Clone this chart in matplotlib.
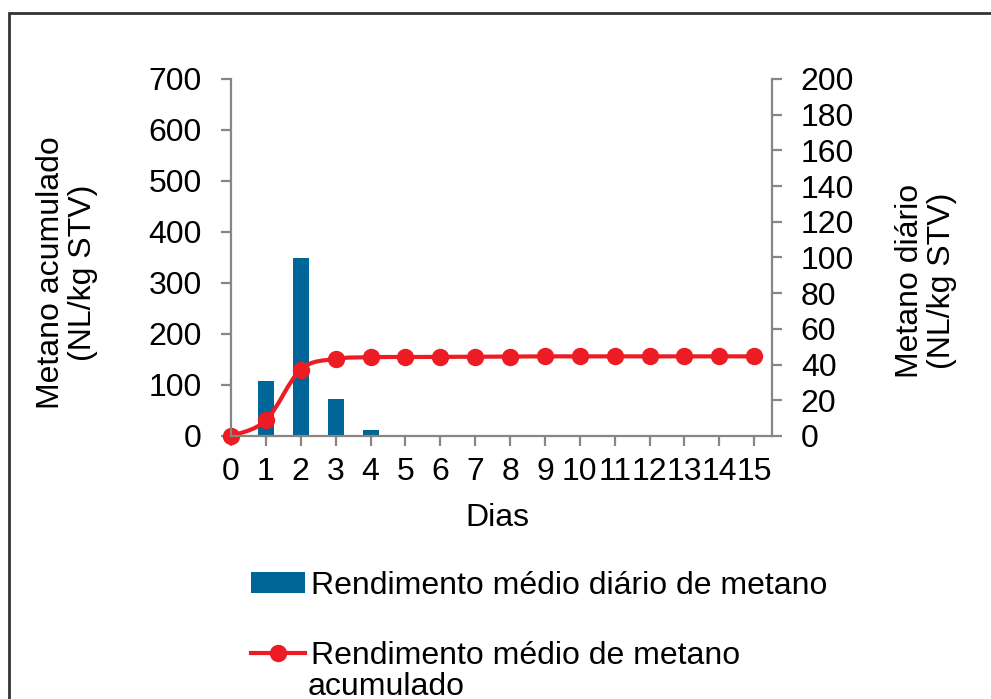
"""
Rendimento de metano: diário (barras) e acumulado (linha) ao longo dos dias.
"""

import matplotlib
matplotlib.use("Agg")
import matplotlib.pyplot as plt
from matplotlib.path import Path
from matplotlib.patches import PathPatch, Rectangle, Patch
from matplotlib.lines import Line2D

plt.rcParams["font.family"] = ["Liberation Sans", "DejaVu Sans"]

days = list(range(16))
daily = [0, 30.6, 99.7, 20.7, 3.4, 0.4, 0.3, 0.3, 0.3, 0.4,
         0, 0, 0, 0, 0, 0]
cumulative = [0, 30.6, 130.3, 151.0, 154.4, 154.8, 155.1, 155.4, 155.7, 156.1,
              156.1, 156.1, 156.1, 156.1, 156.1, 156.1]

BAR_COLOR = "#006699"
LINE_COLOR = "#ED1C24"
AXIS_COLOR = "#8C8481"
FS = 23


def smooth_path(x, y):
    """Bezier path through the points (Catmull-Rom style smoothing)."""
    verts = [(x[0], y[0])]
    codes = [Path.MOVETO]
    n = len(x)
    for i in range(n - 1):
        xp, yp = (x[i - 1], y[i - 1]) if i > 0 else (x[i], y[i])
        xn, yn = (x[i + 2], y[i + 2]) if i + 2 < n else (x[i + 1], y[i + 1])
        c1 = (x[i] + (x[i + 1] - xp) / 6, y[i] + (y[i + 1] - yp) / 6)
        c2 = (x[i + 1] - (xn - x[i]) / 6, y[i + 1] - (yn - y[i]) / 6)
        verts += [c1, c2, (x[i + 1], y[i + 1])]
        codes += [Path.CURVE4] * 3
    return Path(verts, codes)


fig = plt.figure(figsize=(9.91, 6.99), dpi=100)
ax1 = fig.add_axes([0.2331, 0.3763, 0.5456, 0.5107])
ax2 = ax1.twinx()

# daily yield on the right axis
ax2.bar(days, daily, width=0.46, color=BAR_COLOR, zorder=2)
ax2.set_ylim(0, 200)
ax2.set_yticks(range(0, 201, 20))

# cumulative yield on the left axis, drawn above the bars
ax1.set_zorder(ax2.get_zorder() + 1)
ax1.patch.set_visible(False)
ax1.add_patch(PathPatch(smooth_path(days, cumulative), facecolor="none",
                        edgecolor=LINE_COLOR, lw=3, clip_on=False))
ax1.plot(days, cumulative, "o", color=LINE_COLOR, markersize=11.5,
         clip_on=False)
ax1.set_ylim(0, 700)
ax1.set_yticks(range(0, 701, 100))
ax1.set_xlim(0, 15.5)
ax1.set_xticks(days)

for ax in (ax1, ax2):
    for s in ax.spines.values():
        s.set_color(AXIS_COLOR)
        s.set_linewidth(1.6)
    ax.spines["top"].set_visible(False)
    ax.tick_params(colors=AXIS_COLOR, labelcolor="black", labelsize=FS,
                   length=7, width=1.6)
ax1.spines["right"].set_visible(False)
ax2.spines["left"].set_visible(False)
ax2.spines["bottom"].set_visible(False)
ax1.tick_params(axis="y", pad=14)
ax1.tick_params(axis="x", pad=8)
ax2.tick_params(axis="y", pad=14)

fig.text(67 / 991, 1 - 273 / 699, "Metano acumulado\n(NL/kg STV)",
         rotation=90, ha="center", va="center", fontsize=FS,
         multialignment="center", linespacing=1.1)
fig.text(926 / 991, 1 - 281 / 699, "Metano diário\n(NL/kg STV)",
         rotation=90, ha="center", va="center", fontsize=FS,
         multialignment="center", linespacing=1.1)
fig.text(497 / 991, 1 - 518 / 699, "Dias", ha="center", va="center",
         fontsize=FS)

handles = [
    Patch(facecolor=BAR_COLOR),
    Line2D([], [], color=LINE_COLOR, lw=3, marker="o", markersize=11.5),
]
labels = ["Rendimento médio diário de metano",
          "Rendimento médio de metano"]
leg = fig.legend(handles, labels, loc="upper left",
                 bbox_to_anchor=(238 / 991, 1 - 558 / 699), frameon=False,
                 fontsize=FS, handlelength=1.7, handleheight=0.6,
                 handletextpad=0.2, labelspacing=1.25, borderaxespad=0)
# second line of the cumulative-series label
fig.text(308 / 991, 1 - 687 / 699, "acumulado", ha="left", va="center",
         fontsize=FS)

# outer chart frame
fig.add_artist(Rectangle((8.5 / 991, -0.1), 1.2, 1 - 12.5 / 699 + 0.1,
                         transform=fig.transFigure, fill=False,
                         edgecolor="#333333", lw=2))

fig.savefig("out.png", dpi=100, facecolor="white")
